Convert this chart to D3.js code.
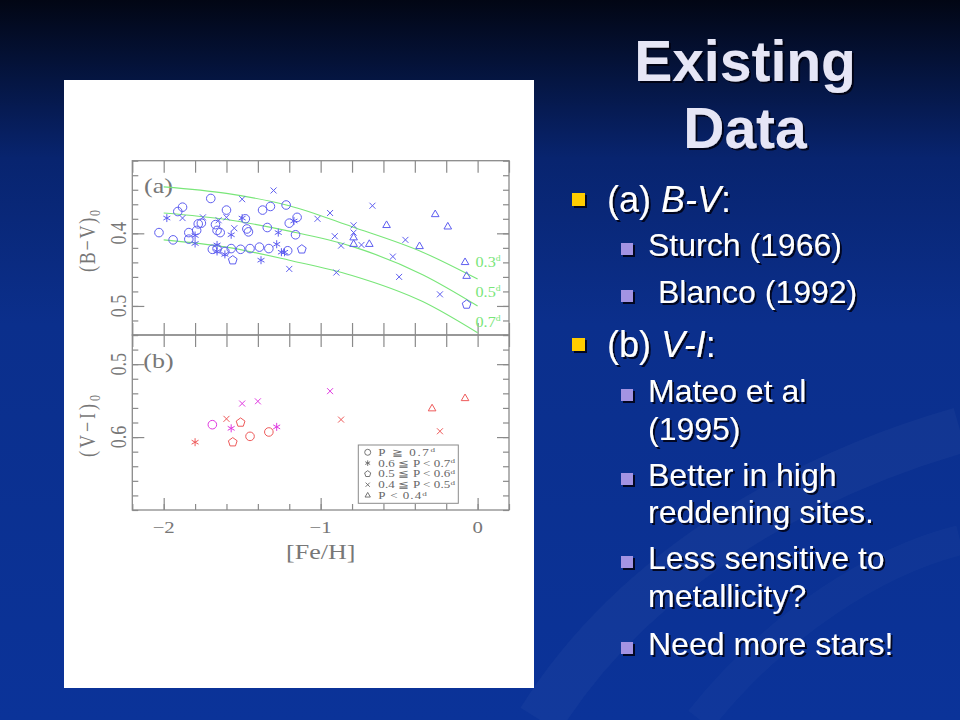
<!DOCTYPE html>
<html>
<head>
<meta charset="utf-8">
<script src="https://cdn.jsdelivr.net/npm/d3@7"></script>
<style>
  body { margin: 0; background: #000; }
  svg { display: block; }
</style>
</head>
<body>
<script>
// values: [Fe/H], colour, period class
var feMajor = [-2, -1, 0];
var bvMajor = [0.4, 0.5];
var viMajor = [0.5, 0.6];

// (a) B-V, one array per period class
var bvP07 = [[-2.03,0.399],[-1.94,0.409],[-1.91,0.370],[-1.88,0.364],[-1.70,0.352],[-1.84,0.399],
  [-1.79,0.396],[-1.84,0.408],[-1.78,0.387],[-1.76,0.386],[-1.67,0.388],[-1.66,0.396],[-1.64,0.399],
  [-1.60,0.368],[-1.69,0.422],[-1.66,0.421],[-1.61,0.425],[-1.57,0.421],[-1.51,0.422],[-1.45,0.421],
  [-1.39,0.419],[-1.33,0.421],[-1.48,0.380],[-1.47,0.394],[-1.46,0.398],[-1.37,0.368],[-1.32,0.363],
  [-1.34,0.392],[-1.22,0.361],[-1.16,0.402],[-1.20,0.386],[-1.15,0.378],[-1.21,0.424]];
var bvP06 = [[-1.98,0.379],[-1.80,0.403],[-1.80,0.414],[-1.66,0.416],[-1.66,0.425],[-1.61,0.429],
  [-1.57,0.402],[-1.50,0.379],[-1.27,0.399],[-1.28,0.415],[-1.25,0.426],[-1.23,0.426],[-1.38,0.437],[-1.17,0.383]];
var bvP05 = [[-1.56,0.437],[-1.12,0.422],[-0.07,0.498]];
var bvP04 = [[-1.88,0.379],[-1.75,0.378],[-1.65,0.382],[-1.60,0.378],[-1.55,0.393],[-1.50,0.353],
  [-1.30,0.341],[-1.02,0.380],[-0.94,0.372],[-0.67,0.362],[-0.79,0.389],[-0.79,0.399],[-0.91,0.404],
  [-0.87,0.417],[-0.74,0.416],[-0.46,0.409],[-0.54,0.432],[-0.90,0.454],[-0.50,0.460],[-0.24,0.484],[-1.20,0.449]];
var bvP03 = [[-0.79,0.406],[-0.79,0.415],[-0.58,0.389],[-0.69,0.415],[-0.37,0.418],[-0.27,0.374],
  [-0.19,0.391],[-0.08,0.440],[-0.07,0.459]];

// (b) V-I, two sources
var viRed = [[-1.80,0.607,'P06'],[-1.60,0.575,'P04'],[-1.51,0.580,'P05'],[-1.56,0.607,'P05'],
  [-1.45,0.599,'P07'],[-1.33,0.593,'P07'],[-0.87,0.576,'P04'],[-0.29,0.561,'P03'],[-0.08,0.547,'P03'],[-0.24,0.592,'P04']];
var viMagenta = [[-1.69,0.583,'P07'],[-1.50,0.554,'P04'],[-1.40,0.551,'P04'],[-1.57,0.588,'P06'],
  [-1.28,0.586,'P06'],[-0.94,0.537,'P04']];

// period-colour relations
var curveFe = [-2.0, -1.6, -1.2, -0.8, -0.35, 0];
var curve03 = [0.336, 0.345, 0.362, 0.391, 0.426, 0.463];
var curve05 = [0.372, 0.381, 0.397, 0.418, 0.457, 0.500];
var curve07 = [0.409, 0.419, 0.437, 0.458, 0.494, 0.537];
var curveNames = ['0.3', '0.5', '0.7'];

var legendClasses = ['P07', 'P06', 'P05', 'P04', 'P03'];
var legendText = ['P \u2267 0.7', '0.6 \u2266 P < 0.7', '0.5 \u2266 P < 0.6', '0.4 \u2266 P < 0.5', 'P < 0.4'];

var bulletLines = [
  {lvl: 1, parts: [['(a) ', 0], ['B-V', 1], [':', 0]], y: 212},
  {lvl: 2, parts: [['Sturch (1966)', 0]], y: 256},
  {lvl: 2, parts: [['Blanco (1992)', 0]], y: 303, indent: 10},
  {lvl: 1, parts: [['(b) ', 0], ['V-I', 1], [':', 0]], y: 357},
  {lvl: 2, parts: [['Mateo et al', 0]], y: 402},
  {lvl: 0, parts: [['(1995)', 0]], y: 440},
  {lvl: 2, parts: [['Better in high', 0]], y: 486},
  {lvl: 0, parts: [['reddening sites.', 0]], y: 523},
  {lvl: 2, parts: [['Less sensitive to', 0]], y: 569},
  {lvl: 0, parts: [['metallicity?', 0]], y: 607},
  {lvl: 2, parts: [['Need more stars!', 0]], y: 655}
];

var W = 960, H = 720;
var svg = d3.select('body').append('svg').attr('width', W).attr('height', H);
var defs = svg.append('defs');

var bg = defs.append('linearGradient').attr('id', 'bg').attr('x1', 0).attr('y1', 0).attr('x2', 0).attr('y2', 1);
[[0, '#020614'], [0.08, '#041135'], [0.22, '#08246f'], [0.45, '#0b2f8c'], [1, '#0b3399']].forEach(function (s) {
  bg.append('stop').attr('offset', s[0]).attr('stop-color', s[1]);
});
var shadow = defs.append('filter').attr('id', 'shadow')
  .attr('x', '-5%').attr('y', '-10%').attr('width', '115%').attr('height', '130%');
shadow.append('feDropShadow').attr('dx', 2).attr('dy', 2).attr('stdDeviation', 0.7)
  .attr('flood-color', '#000010').attr('flood-opacity', 0.85);

svg.append('rect').attr('width', W).attr('height', H).attr('fill', 'url(#bg)');
// faint swoosh of the slide design
svg.append('path').attr('d', 'M540,720 C640,560 820,470 960,430')
  .attr('fill', 'none').attr('stroke', 'rgba(255,255,255,0.03)').attr('stroke-width', 46);
svg.append('path').attr('d', 'M700,720 C780,620 880,560 960,540')
  .attr('fill', 'none').attr('stroke', 'rgba(255,255,255,0.025)').attr('stroke-width', 30);

// ---------- figure ----------
svg.append('rect').attr('x', 64).attr('y', 80).attr('width', 470).attr('height', 608).attr('fill', '#fff');

var x = d3.scaleLinear().domain([-2.2, 0.2]).range([132.3, 509]);
var yTop = d3.scaleLinear().domain([0.30, 0.54]).range([160.7, 335]);
var yBot = d3.scaleLinear().domain([0.46, 0.70]).range([335, 510]);

var feMinor = d3.range(-11, 2).map(function (i) { return i * 0.2; });
function colMinor(d) { return d3.range(0, 13).map(function (i) { return d[0] + i * 0.02; }); }

var axisColor = '#8a8a8a';
var plot = svg.append('g');

function ticks(axis, pos, vals, len) {
  var g = plot.append('g').attr('transform', pos)
    .call(axis.tickValues(vals).tickSize(len).tickSizeOuter(0).tickFormat(''));
  g.select('.domain').remove();
  g.selectAll('line').attr('stroke', axisColor).attr('stroke-width', 1.2);
}

function panel(y, majors, longBottom) {
  var y0 = y.range()[0], y1 = y.range()[1];
  var cm = colMinor(y.domain());
  ticks(d3.axisBottom(x), 'translate(0,' + y0 + ')', feMinor, 12);
  if (longBottom) {
    ticks(d3.axisTop(x), 'translate(0,' + y1 + ')', feMinor, 12);
  } else {
    ticks(d3.axisTop(x), 'translate(0,' + y1 + ')', feMinor, 6);
    ticks(d3.axisTop(x), 'translate(0,' + y1 + ')', feMajor, 12);
  }
  ticks(d3.axisRight(y), 'translate(' + x.range()[0] + ',0)', cm, 6);
  ticks(d3.axisRight(y), 'translate(' + x.range()[0] + ',0)', majors, 12);
  ticks(d3.axisLeft(y), 'translate(' + x.range()[1] + ',0)', cm, 6);
  ticks(d3.axisLeft(y), 'translate(' + x.range()[1] + ',0)', majors, 12);
  plot.append('rect').attr('x', x.range()[0]).attr('y', y0)
    .attr('width', x.range()[1] - x.range()[0]).attr('height', y1 - y0)
    .attr('fill', 'none').attr('stroke', axisColor).attr('stroke-width', 1.3);
}
panel(yTop, bvMajor, true);
panel(yBot, viMajor, false);

// stretched serif text like the scanned figure
var SX = 1.3;
var textGrey = '#777';
function label(px, py, str, size, rot) {
  return plot.append('text')
    .attr('transform', 'translate(' + px + ',' + py + ') scale(' + SX + ',1)' + (rot ? ' rotate(-90)' : ''))
    .attr('text-anchor', 'middle').attr('font-family', 'Liberation Serif, serif')
    .attr('font-size', size).attr('fill', textGrey).text(str);
}
feMajor.forEach(function (v) { label(x(v), 533, v === 0 ? '0' : '\u2212' + Math.abs(v), 16); });
label(320.7, 559, '[Fe/H]', 20);
bvMajor.forEach(function (v) { label(126, yTop(v), String(v), 18, true); });
viMajor.forEach(function (v) { label(126, yBot(v), String(v), 18, true); });

function colLabel(cy, main) {
  var t = label(95, cy, main, 18, true).attr('textLength', 62).attr('lengthAdjust', 'spacing');
  t.append('tspan').attr('font-size', 12).attr('dy', 4).text('0');
}
colLabel(241, '(B\u2212V)');
colLabel(426, '(V\u2212I)');

label(158.5, 193, '(a)', 20);
label(158.5, 368, '(b)', 20);

// green relations
var green = '#79e679';
var line = d3.line().curve(d3.curveMonotoneX);
[curve03, curve05, curve07].forEach(function (c, k) {
  plot.append('path')
    .attr('d', line(c.map(function (v, i) { return [x(curveFe[i]), yTop(v)]; })))
    .attr('fill', 'none').attr('stroke', green).attr('stroke-width', 1.1);
  var t = plot.append('text')
    .attr('transform', 'translate(475.5,' + [267, 296.7, 326.5][k] + ') scale(1.08,1)')
    .attr('font-family', 'Liberation Serif, serif').attr('font-size', 15).attr('fill', green)
    .text(curveNames[k]);
  t.append('tspan').attr('font-size', 9).attr('dy', -6).text('d');
});

// markers
function shapePath(cls, s) {
  var p = d3.path(), i, a;
  if (cls === 'P07') { p.moveTo(s, 0); p.arc(0, 0, s, 0, 2 * Math.PI); }
  else if (cls === 'P05' || cls === 'P03') {
    var n = cls === 'P05' ? 5 : 3;
    for (i = 0; i < n; i++) {
      a = -Math.PI / 2 + i * 2 * Math.PI / n;
      if (i) p.lineTo(s * Math.cos(a), s * Math.sin(a)); else p.moveTo(s * Math.cos(a), s * Math.sin(a));
    }
    p.closePath();
  }
  else if (cls === 'P04') { p.moveTo(-s, -s); p.lineTo(s, s); p.moveTo(-s, s); p.lineTo(s, -s); }
  else {
    for (i = 0; i < 3; i++) {
      a = Math.PI / 2 + i * Math.PI / 3;
      p.moveTo(s * Math.cos(a), s * Math.sin(a)); p.lineTo(-s * Math.cos(a), -s * Math.sin(a));
    }
  }
  return p.toString();
}
var markSize = {P07: 4.3, P06: 4, P05: 4.6, P04: 3, P03: 4.4};

function marks(data, y, color, cls) {
  plot.append('g').selectAll('path').data(data).join('path')
    .attr('transform', function (d) { return 'translate(' + x(d[0]) + ',' + y(d[1]) + ')'; })
    .attr('d', function (d) { var c = cls || d[2]; return shapePath(c, markSize[c]); })
    .attr('fill', 'none').attr('stroke', color).attr('stroke-width', 1);
}
var blue = '#5e5ef0';
marks(bvP07, yTop, blue, 'P07');
marks(bvP06, yTop, blue, 'P06');
marks(bvP05, yTop, blue, 'P05');
marks(bvP04, yTop, blue, 'P04');
marks(bvP03, yTop, blue, 'P03');
marks(viRed, yBot, '#ee5a5a');
marks(viMagenta, yBot, '#e03ae0');

// legend
var lg = plot.append('g');
lg.append('rect').attr('x', 358.3).attr('y', 445).attr('width', 100).attr('height', 58.3)
  .attr('fill', '#fff').attr('stroke', axisColor).attr('stroke-width', 1);
var lgWidths = [56.7, 76.7, 76.7, 76.7, 48.4];
legendClasses.forEach(function (c, i) {
  var cy = 452.3 + i * 10.8;
  lg.append('path').attr('transform', 'translate(367.7,' + cy + ')')
    .attr('d', shapePath(c, markSize[c] * 0.7)).attr('fill', 'none').attr('stroke', '#666').attr('stroke-width', 0.9);
  var t = lg.append('text').attr('transform', 'translate(378.3,' + (cy + 3.5) + ') scale(' + SX + ',1)')
    .attr('font-family', 'Liberation Serif, DejaVu Serif, serif').attr('font-size', 10).attr('fill', '#666')
    .attr('textLength', lgWidths[i] / SX).attr('lengthAdjust', 'spacing')
    .text(legendText[i]);
  t.append('tspan').attr('font-size', 7).attr('dy', -3.5).text('d');
});

// ---------- slide text ----------
var txt = svg.append('g').attr('filter', 'url(#shadow)').attr('font-family', 'Liberation Sans, Arial, sans-serif');
txt.append('text').attr('x', 745).attr('y', 81).attr('text-anchor', 'middle')
  .attr('font-size', 57).attr('font-weight', 'bold').attr('fill', '#e6e6f6').text('Existing');
txt.append('text').attr('x', 745).attr('y', 148).attr('text-anchor', 'middle')
  .attr('font-size', 57).attr('font-weight', 'bold').attr('fill', '#e6e6f6').text('Data');

bulletLines.forEach(function (b) {
  if (b.lvl === 1) {
    txt.append('rect').attr('x', 572).attr('y', b.y - 19).attr('width', 13).attr('height', 13).attr('fill', '#ffcc00');
  } else if (b.lvl === 2) {
    txt.append('rect').attr('x', 621).attr('y', b.y - 13).attr('width', 12).attr('height', 12).attr('fill', '#a393e3');
  }
  var t = txt.append('text').attr('x', (b.lvl === 1 ? 607 : 648) + (b.indent || 0)).attr('y', b.y)
    .attr('font-size', b.lvl === 1 ? 36 : 32).attr('fill', '#ffffff').attr('xml:space', 'preserve');
  b.parts.forEach(function (p) {
    t.append('tspan').attr('font-style', p[1] ? 'italic' : 'normal').text(p[0]);
  });
});
</script>
</body>
</html>
